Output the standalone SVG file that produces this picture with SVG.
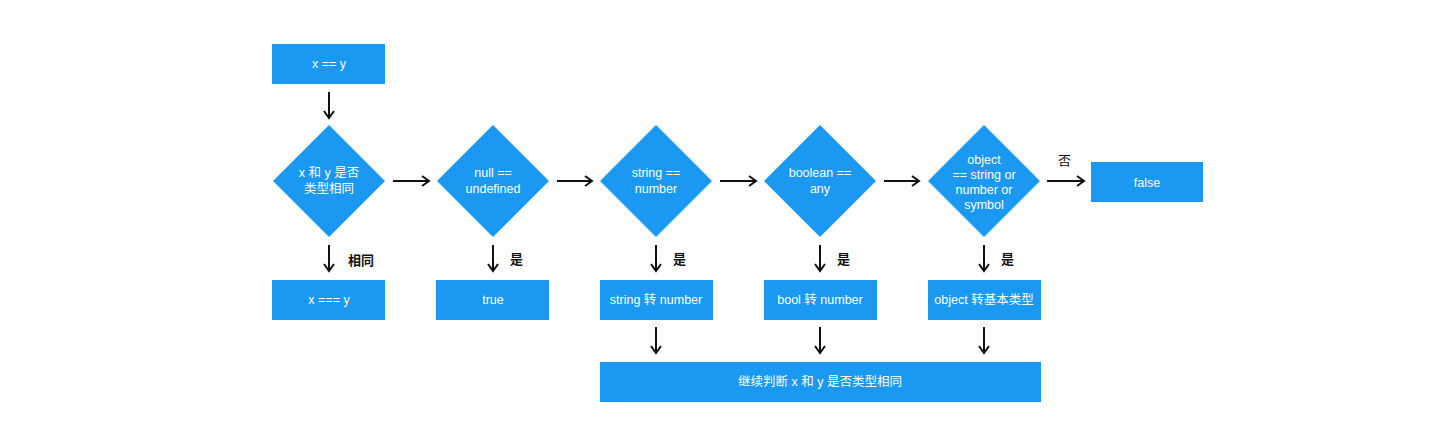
<svg xmlns="http://www.w3.org/2000/svg" width="1440" height="445" viewBox="0 0 1440 445">
<defs>
<style>
.n{fill:#1a98f2}
.t{fill:#fff;font-family:"Liberation Sans","Noto Sans CJK SC",sans-serif;font-size:12.5px;text-anchor:middle}
.l{fill:#111;font-family:"Liberation Sans","Noto Sans CJK SC",sans-serif;font-size:13px;font-weight:bold}
.c{stroke:#111;stroke-width:2;fill:none;marker-end:url(#a)}
</style>
<marker id="a" viewBox="0 0 10 12" refX="8" refY="6" markerWidth="10" markerHeight="12" orient="auto" markerUnits="userSpaceOnUse">
<path d="M1,1 L8,6 L1,11" fill="none" stroke="#111" stroke-width="2"/>
</marker>
</defs>
<rect width="1440" height="445" fill="#fff"/>
<g id="start"><rect class="n" x="272" y="44" width="113" height="40"/><text class="t" x="329" y="68">x == y</text></g>
<g id="d1"><polygon class="n" points="329,125 385,181 329,237 273,181"/><text class="t" x="329" y="177">x 和 y 是否</text><text class="t" x="329" y="193">类型相同</text></g>
<g id="d2"><polygon class="n" points="493,125 549,181 493,237 437,181"/><text class="t" x="493" y="177">null ==</text><text class="t" x="493" y="193">undefined</text></g>
<g id="d3"><polygon class="n" points="656,125 712,181 656,237 600,181"/><text class="t" x="656" y="177">string ==</text><text class="t" x="656" y="193">number</text></g>
<g id="d4"><polygon class="n" points="820,125 876,181 820,237 764,181"/><text class="t" x="820" y="177">boolean ==</text><text class="t" x="820" y="193">any</text></g>
<g id="d5"><polygon class="n" points="984,125 1040,181 984,237 928,181"/><text class="t" x="984" y="164">object</text><text class="t" x="984" y="179">== string or</text><text class="t" x="984" y="194">number or</text><text class="t" x="984" y="209">symbol</text></g>
<g id="false"><rect class="n" x="1091" y="162" width="112" height="40"/><text class="t" x="1147" y="187">false</text></g>
<g id="b1"><rect class="n" x="272" y="280" width="113" height="40"/><text class="t" x="329" y="304">x === y</text></g>
<g id="b2"><rect class="n" x="436" y="280" width="113" height="40"/><text class="t" x="493" y="304">true</text></g>
<g id="b3"><rect class="n" x="600" y="280" width="113" height="40"/><text class="t" x="656" y="304">string 转 number</text></g>
<g id="b4"><rect class="n" x="764" y="280" width="113" height="40"/><text class="t" x="820" y="304">bool 转 number</text></g>
<g id="b5"><rect class="n" x="928" y="280" width="113" height="40"/><text class="t" x="984" y="304">object 转基本类型</text></g>
<g id="cont"><rect class="n" x="600" y="362" width="441" height="40"/><text class="t" x="820" y="386">继续判断 x 和 y 是否类型相同</text></g>
<g id="connectors">
<line class="c" x1="329" y1="92" x2="329" y2="118"/>
<line class="c" x1="393" y1="181" x2="429" y2="181"/>
<line class="c" x1="557" y1="181" x2="592" y2="181"/>
<line class="c" x1="720" y1="181" x2="756" y2="181"/>
<line class="c" x1="884" y1="181" x2="919" y2="181"/>
<line class="c" x1="1047" y1="181" x2="1084" y2="181"/>
<line class="c" x1="329" y1="245" x2="329" y2="271"/>
<line class="c" x1="493" y1="245" x2="493" y2="271"/>
<line class="c" x1="656" y1="245" x2="656" y2="271"/>
<line class="c" x1="820" y1="245" x2="820" y2="271"/>
<line class="c" x1="984" y1="245" x2="984" y2="271"/>
<line class="c" x1="656" y1="327" x2="656" y2="353"/>
<line class="c" x1="820" y1="327" x2="820" y2="353"/>
<line class="c" x1="984" y1="327" x2="984" y2="353"/>
<text class="l" x="1058" y="165" style="font-weight:normal">否</text>
<text class="l" x="348" y="265">相同</text>
<text class="l" x="510" y="264">是</text>
<text class="l" x="673" y="264">是</text>
<text class="l" x="837" y="264">是</text>
<text class="l" x="1001" y="264">是</text>
</g>
</svg>
